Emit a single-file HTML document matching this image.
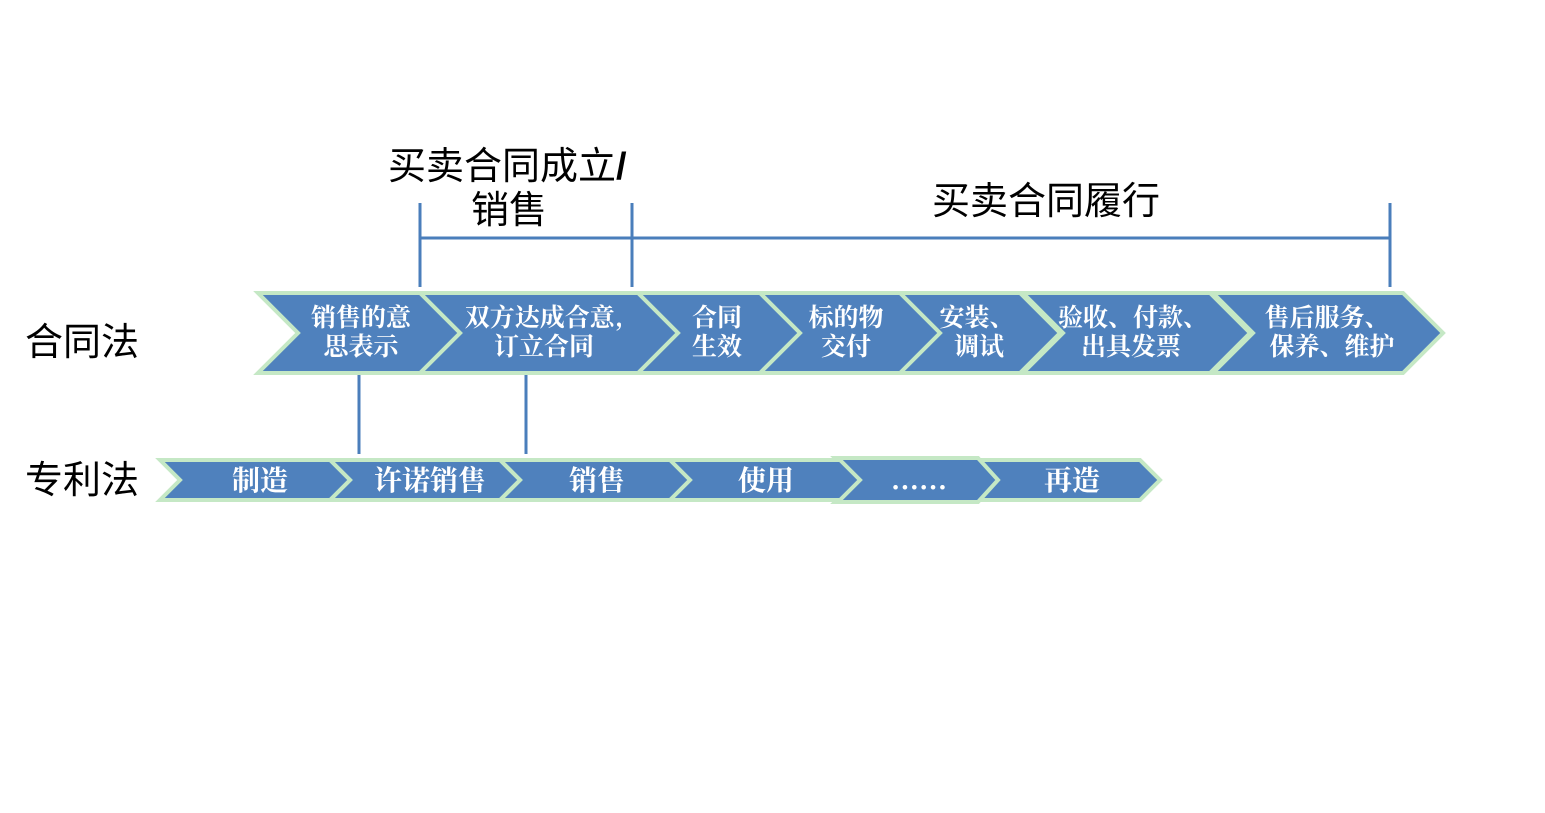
<!DOCTYPE html>
<html><head><meta charset="utf-8"><style>
html,body{margin:0;padding:0;background:#fff;}
svg{display:block;}
.w{fill:#fff;font-family:"Noto Serif CJK SC","Liberation Serif",serif;font-weight:bold;font-size:25px;text-anchor:middle;}
.s{font-size:28px;}
.b{fill:#000;font-family:"Liberation Sans","Noto Sans CJK SC",sans-serif;font-size:38px;}
</style></head><body>
<svg width="1545" height="813" viewBox="0 0 1545 813">
<g stroke="#4A7EBB" stroke-width="3" fill="none">
<line x1="420" y1="203" x2="420" y2="287"/>
<line x1="632" y1="203" x2="632" y2="287"/>
<line x1="1390" y1="203" x2="1390" y2="287"/>
<line x1="420" y1="238" x2="1390" y2="238"/>
<line x1="359" y1="373" x2="359" y2="454"/>
<line x1="526" y1="373" x2="526" y2="454"/>
</g>
<g fill="#4F81BD" stroke="#C5E8C5" stroke-width="4" stroke-linejoin="miter">
<polygon points="1213,293 1403,293 1443,333 1403,373 1213,373 1253,333"/>
<polygon points="1023,293 1210,293 1250,333 1210,373 1023,373 1063,333"/>
<polygon points="898,293 1020,293 1060,333 1020,373 898,373 938,333"/>
<polygon points="755,293 900,293 940,333 900,373 755,373 795,333"/>
<polygon points="636,293 760,293 800,333 760,373 636,373 676,333"/>
<polygon points="420,293 638,293 678,333 638,373 420,373 460,333"/>
<polygon points="258,293 420,293 460,333 420,373 258,373 298,333"/>

<polygon points="975,460 1140,460 1160,480 1140,500 975,500 995,480"/>
<polygon points="835,458 978,458 998,480 978,502 835,502 857,480"/>
<polygon points="668,460 840,460 860,480 840,500 668,500 688,480"/>
<polygon points="500,460 670,460 690,480 670,500 500,500 520,480"/>
<polygon points="330,460 500,460 520,480 500,500 330,500 350,480"/>
<polygon points="160,460 330,460 350,480 330,500 160,500 180,480"/>
</g>
<text class="b" x="388" y="179">买卖合同成立<tspan font-weight="bold">/</tspan></text>
<text class="b" x="471" y="223">销售</text>
<text class="b" x="932" y="214">买卖合同履行</text>
<text class="b" x="25" y="355">合同法</text>
<text class="b" x="25" y="493">专利法</text>

<text class="w" x="361" y="326">销售的意</text>
<text class="w" x="361" y="355">思表示</text>
<text class="w" x="544" y="326">双方达成合意,</text>
<text class="w" x="544" y="355">订立合同</text>
<text class="w" x="717" y="326">合同</text>
<text class="w" x="717" y="355">生效</text>
<text class="w" x="846" y="326">标的物</text>
<text class="w" x="846" y="355">交付</text>
<text class="w" x="977" y="326">安装、</text>
<text class="w" x="979" y="355">调试</text>
<text class="w" x="1133" y="326">验收、付款、</text>
<text class="w" x="1131" y="355">出具发票</text>
<text class="w" x="1327" y="326">售后服务、</text>
<text class="w" x="1332" y="355">保养、维护</text>

<text class="w s" x="260" y="490">制造</text>
<text class="w s" x="430" y="490">许诺销售</text>
<text class="w s" x="597" y="490">销售</text>
<text class="w s" x="766" y="490">使用</text>
<text class="w s" x="919" y="489">......</text>
<text class="w s" x="1072" y="490">再造</text>
</svg>
</body></html>
